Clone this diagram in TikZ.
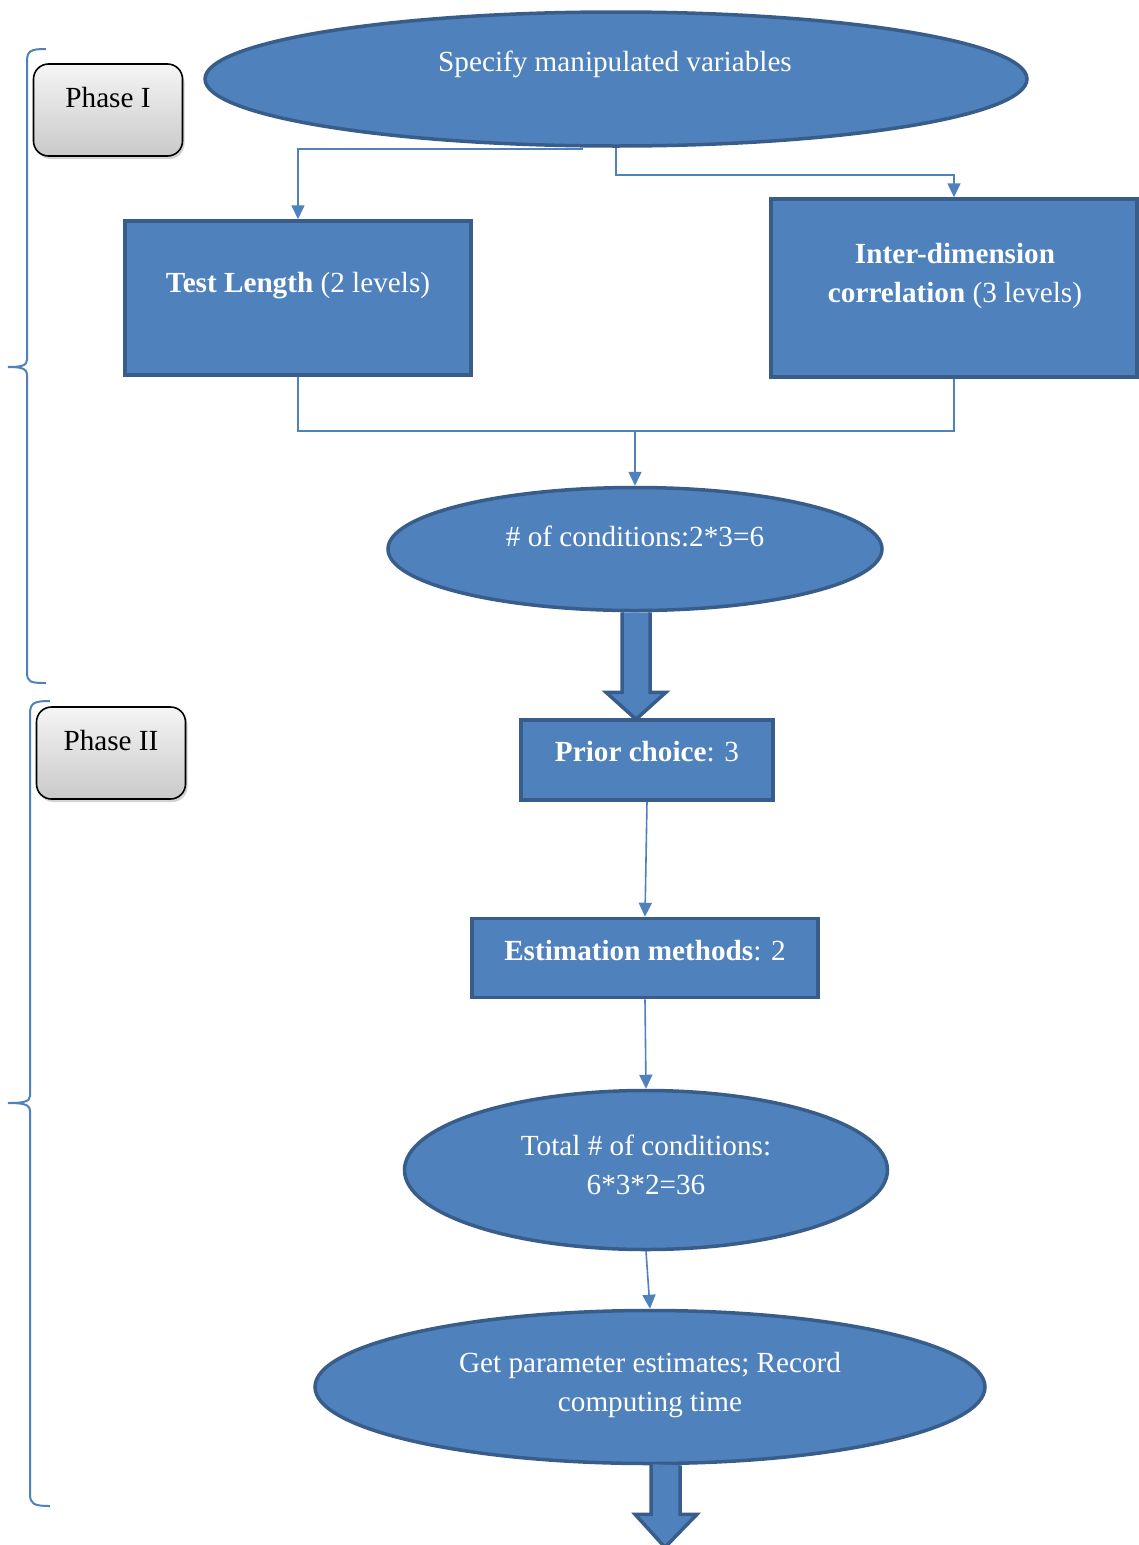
\documentclass[tikz,border=0pt]{standalone}
\usepackage{fontspec}
\setmainfont{Liberation Serif}
\usetikzlibrary{shapes.geometric,arrows.meta,shadows,calc}
\definecolor{bfill}{HTML}{4F81BD}
\definecolor{bline}{HTML}{385D8A}
\begin{document}
\begin{tikzpicture}[x=1pt,y=-1pt,
  every node/.style={font=\fontsize{29.2}{39}\selectfont},
  ell/.style={ellipse,fill=bfill,draw=bline,line width=3.5pt,inner sep=0pt},
  boxb/.style={rectangle,fill=bfill,draw=bline,line width=3.5pt,inner sep=0pt},
  txt/.style={text=white,align=center,inner sep=0pt},
  conn/.style={draw=bfill,line width=1.6pt},
  arr/.style={conn,-{Triangle[width=13pt,length=14pt]}},
  phase/.style={rectangle,rounded corners=15pt,draw=black,line width=1.6pt,top color=gray!8,bottom color=gray!42,drop shadow={opacity=0.35,shadow xshift=2pt,shadow yshift=-3pt},minimum width=149pt,minimum height=92pt,inner sep=0pt},
  brace/.style={draw=bfill,line width=2pt},
  blk/.style={fill=bfill,draw=bline,line width=3.5pt,line join=miter}
]
\useasboundingbox (0,0) rectangle (1138,1545);

% Ellipses and boxes
\node[ell,minimum width=822pt,minimum height=134pt] (e1) at (616,79) {};
\node[txt] (t1) at (615,64) {Specify manipulated variables};

\node[boxb,minimum width=346pt,minimum height=154pt] (tl) at (298,298) {};
\node[txt] (ttl) at (298,286) {\textbf{Test Length} (2 levels)};

\node[boxb,minimum width=366pt,minimum height=178pt] (ic) at (954,288) {};
\node[txt] (tic) at (955,276) {\textbf{Inter-dimension}\\\textbf{correlation} (3 levels)};

\node[ell,minimum width=494pt,minimum height=123pt] (c1) at (635,549) {};
\node[txt] (tc1) at (635,536) {\# of conditions:2*3=6};

\node[boxb,minimum width=252pt,minimum height=80pt] (pc) at (647,760) {};
\node[txt] (tpc) at (647,752) {\textbf{Prior choice}: 3};

\node[boxb,minimum width=346pt,minimum height=79pt] (em) at (645,958) {};
\node[txt] (tem) at (645,951) {\textbf{Estimation methods}: 2};

\node[ell,minimum width=483pt,minimum height=159pt] (tot) at (646,1170) {};
\node[txt] (ttot) at (646,1165) {Total \# of conditions:\\6*3*2=36};

\node[ell,minimum width=670pt,minimum height=153pt] (gp) at (650,1387) {};
\node[txt] (tgp) at (650,1385) {Get parameter estimates; Record\\computing time};

% Phase boxes
\node[phase] (p1) at (108,110) {};
\node[inner sep=0pt] (tp1) at (108,98) {Phase I};
\node[phase] (p2) at (111,753) {};
\node[inner sep=0pt] (tp2) at (111,741) {Phase II};

% Connectors
\draw[arr] ($(e1.south)+(-33,1)$) -| (tl.north);
\draw[arr] (e1.south) -- ++(0,27) -| (ic.north);
\coordinate (m) at (635,431);
\draw[conn] (tl.south) |- (m);
\draw[conn] (ic.south) |- (m);
\draw[arr] (m) -- (c1.north);
\draw[arr] (pc.south) -- (em.north);
\draw[arr] (em.south) -- (tot.north);
\draw[arr] (tot.south) -- (gp.north);

% Block arrows
\draw[blk] ($(c1.south)+(-13,0)$) -- ++(0,80) -- ++(-16,0) -- ($(c1.south)+(1,107)$) -- ($(c1.south)+(31,80)$) -- ++(-16,0) -- ++(0,-80);
\draw[blk] ($(gp.south)+(1,-1)$) -- ++(0,50) -- ++(-16,0) -- ($(gp.south)+(15,82)$) -- ($(gp.south)+(47,49)$) -- ++(-17,0) -- ++(0,-49);

% Braces
\draw[brace] (46,49) .. controls (30,49) and (27,51) .. (27,62) -- (27,360)
  .. controls (27,366) and (20,367) .. (8,367)
  .. controls (20,367) and (27,368) .. (27,375) -- (27,672)
  .. controls (27,682) and (30,683) .. (46,683);
\draw[brace] (50,701) .. controls (34,701) and (30,703) .. (30,714) -- (30,1096)
  .. controls (30,1102) and (22,1103) .. (8,1103)
  .. controls (22,1103) and (30,1104) .. (30,1111) -- (30,1494)
  .. controls (30,1504) and (34,1506) .. (50,1506);
\end{tikzpicture}
\end{document}
